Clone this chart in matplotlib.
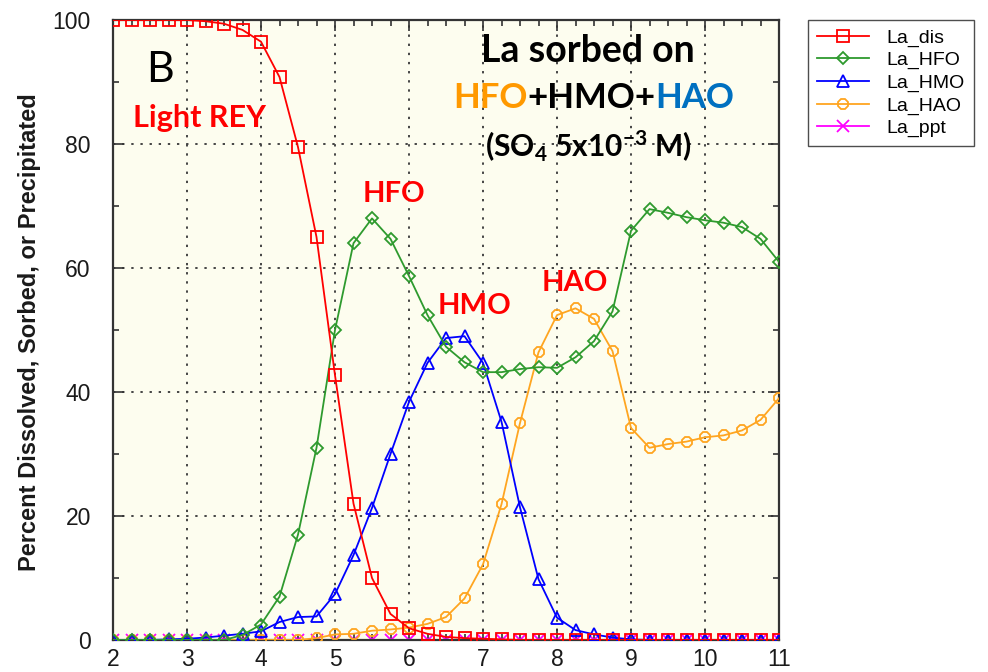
import matplotlib
matplotlib.use("Agg")
import matplotlib.pyplot as plt
from matplotlib.ticker import MultipleLocator

# pH grid and speciation of La (percent of total)
ph = [2.0, 2.25, 2.5, 2.75, 3.0, 3.25, 3.5, 3.75, 4.0, 4.25, 4.5, 4.75,
      5.0, 5.25, 5.5, 5.75, 6.0, 6.25, 6.5, 6.75, 7.0, 7.25, 7.5, 7.75,
      8.0, 8.25, 8.5, 8.75, 9.0, 9.25, 9.5, 9.75, 10.0, 10.25, 10.5, 10.75, 11.0]

la_dis = [100, 100, 100, 100, 100, 99.8, 99.4, 98.4, 96.5, 90.8, 79.5, 65.0,
          42.7, 22.0, 10.0, 4.2, 1.9, 1.0, 0.5, 0.3, 0.2, 0.1, 0, 0,
          0, 0, 0, 0, 0, 0, 0, 0, 0, 0, 0, 0, 0]

la_hfo = [0, 0, 0, 0, 0, 0, 0, 0.8, 2.5, 7.0, 17.0, 31.0,
          50.0, 64.0, 68.0, 64.7, 58.7, 52.4, 47.3, 44.8, 43.2, 43.2, 43.7, 44.0,
          43.9, 45.6, 48.2, 53.0, 66.0, 69.5, 68.9, 68.2, 67.7, 67.3, 66.6, 64.7, 61.0]

la_hmo = [0, 0, 0, 0.1, 0.2, 0.4, 0.7, 1.0, 1.4, 2.9, 3.7, 3.8,
          7.4, 13.7, 21.3, 30.0, 38.4, 44.7, 48.7, 49.0, 44.7, 35.2, 21.4, 9.8,
          3.6, 1.6, 0.9, 0.4, 0.1, 0, 0, 0, 0, 0, 0, 0, 0]

la_hao = [0, 0, 0, 0, 0, 0, 0, 0, 0, 0, 0, 0.3,
          0.9, 1.0, 1.5, 1.7, 2.0, 2.6, 3.7, 6.7, 12.2, 21.9, 35.0, 46.4,
          52.4, 53.5, 51.8, 46.6, 34.2, 31.0, 31.6, 32.0, 32.7, 33.0, 33.8, 35.5, 39.0]

la_ppt = [0] * len(ph)

series = [
    ("La_dis", la_dis, "#ff0000", "s", 8, 6),
    ("La_HFO", la_hfo, "#2e9a2e", "D", 6, 5),
    ("La_HMO", la_hmo, "#0000ff", "^", 8, 4),
    ("La_HAO", la_hao, "#ffa520", "8", 8, 3),
    ("La_ppt", la_ppt, "#ff00ff", "x", 8, 2),
]

plt.rcParams["font.family"] = ["Liberation Sans", "DejaVu Sans"]
plt.rcParams["mathtext.fontset"] = "custom"
plt.rcParams["mathtext.rm"] = "Lato:bold"
plt.rcParams["mathtext.it"] = "Lato:bold"
plt.rcParams["mathtext.bf"] = "Lato:bold"

fig = plt.figure(figsize=(9.88, 6.72), dpi=100)
ax = fig.add_axes([113 / 988, 1 - 640 / 672, 666 / 988, 620 / 672])
ax.set_facecolor("#fdfdef")

handles = []
for name, vals, color, marker, ms, z in series:
    line, = ax.plot(ph, vals, color=color, lw=1.3, marker=marker, ms=ms,
                    mfc="none", mec=color, mew=1.3, zorder=z, label=name)
    handles.append(line)

ax.set_xlim(2, 11)
ax.set_ylim(0, 100)
ax.xaxis.set_major_locator(MultipleLocator(1))
ax.xaxis.set_minor_locator(MultipleLocator(0.25))
ax.yaxis.set_major_locator(MultipleLocator(20))
ax.yaxis.set_minor_locator(MultipleLocator(10))
ax.tick_params(which="both", direction="in", top=True, right=True,
               color="#333333", width=1.2)
ax.tick_params(which="major", length=8)
ax.tick_params(which="minor", length=4)
ax.tick_params(axis="x", labelsize=16.5, pad=6, labelcolor="#1a1a1a")
ax.tick_params(axis="y", labelsize=16.5, pad=16, labelcolor="#1a1a1a")
for sp in ax.spines.values():
    sp.set_color("#333333")
    sp.set_linewidth(1.6)
ax.grid(True, which="major", color="#444444", linestyle=(0, (1.2, 3.5)), lw=1.4)
ax.set_axisbelow(True)

fig.text(30 / 988, 1 - 332 / 672, "Percent Dissolved, Sorbed, or Precipitated",
         rotation=90, ha="center", va="center", fontsize=17,
         fontweight="bold", color="#1a1a1a")

fig.legend(handles=handles, loc="upper left",
           bbox_to_anchor=(808 / 988, 1 - 20 / 672), fontsize=14,
           frameon=True, fancybox=False, edgecolor="#222222",
           handlelength=2.7, handletextpad=0.9, labelspacing=0.25,
           borderpad=0.45, borderaxespad=0)


def px(x, y):
    # pixel position (top-left origin) to figure fraction
    return x / 988, 1 - y / 672


# panel annotations
lato = ["Lato", "DejaVu Sans"]
fig.text(*px(160, 70), "B", fontsize=31, family=lato,
         ha="center", va="center")

for label, (x, y), size in [("Light REY", (199, 118), 22),
                            ("HFO", (394, 194), 21),
                            ("HMO", (474, 306), 21),
                            ("HAO", (575, 283), 21)]:
    fig.text(*px(x, y), label, color="#ff0000", fontsize=size,
             fontweight="bold", family=lato, ha="center", va="center")

fig.text(*px(588, 51), "La sorbed on", fontsize=27, fontweight="bold",
         family=lato, ha="center", va="center")

t1 = fig.text(*px(453, 98), "HFO", color="#ff9900", fontsize=25,
              fontweight="bold", family=lato, ha="left", va="center")
t2 = ax.annotate("+HMO+", xy=(1, 0), xycoords=t1, va="bottom", ha="left",
                 fontsize=25, fontweight="bold", family=lato, color="black")
ax.annotate("HAO", xy=(1, 0), xycoords=t2, va="bottom", ha="left",
            fontsize=25, fontweight="bold", family=lato, color="#0070c0")

fig.text(*px(588, 146), r"(SO$_4$ 5x10$^{\mathrm{-3}}$ M)", fontsize=21.5,
         fontweight="bold", family=lato, ha="center", va="center")

fig.savefig("out.png", dpi=100)
